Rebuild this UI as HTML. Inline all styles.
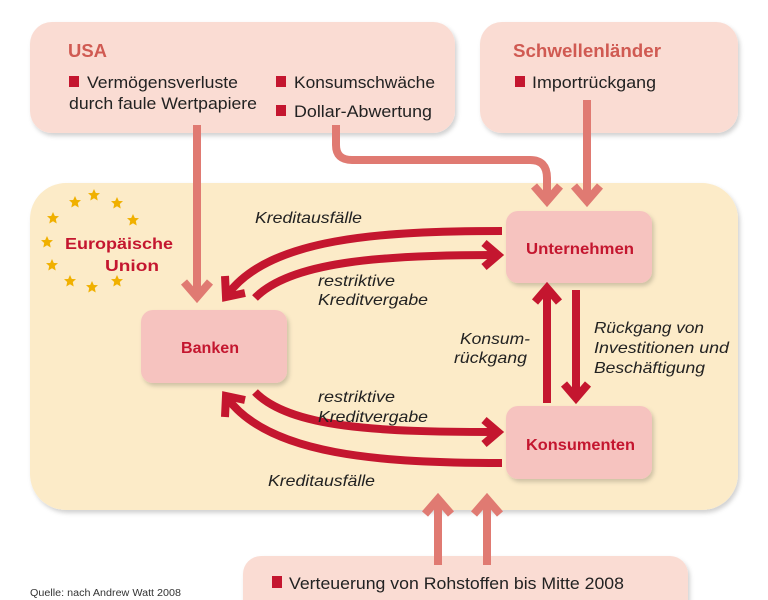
<!DOCTYPE html>
<html><head><meta charset="utf-8"><style>
body{margin:0;background:#fff}
svg{display:block}
text{font-family:"Liberation Sans Narrow","Liberation Sans",sans-serif}
.it{font-style:italic;font-size:16px;fill:#222}
.b{font-size:16.5px;fill:#222}
.t{font-weight:bold;font-size:18px;fill:#d05a52}
.n{font-weight:bold;font-size:16px;fill:#c4162f}
</style></head><body>
<svg width="768" height="600" viewBox="0 0 768 600" xmlns="http://www.w3.org/2000/svg">
<defs>
<filter id="sh" x="-10%" y="-10%" width="130%" height="130%"><feDropShadow dx="2" dy="3" stdDeviation="2" flood-color="#000" flood-opacity="0.18"/></filter>
<g id="st"><polygon points="0,-6 1.8,-2 6,-1.9 2.8,1 3.7,5.5 0,3.2 -3.7,5.5 -2.8,1 -6,-1.9 -1.8,-2" fill="#f0b000"/></g>
</defs>
<rect x="0" y="0" width="768" height="600" fill="#fff"/>
<rect x="30" y="22" width="425" height="111" rx="22" fill="#fadcd3" filter="url(#sh)"/>
<rect x="480" y="22" width="258" height="111" rx="22" fill="#fadcd3" filter="url(#sh)"/>
<rect x="30" y="183" width="708" height="327" rx="36" fill="#fcebc8" filter="url(#sh)"/>
<rect x="243" y="556" width="445" height="70" rx="18" fill="#fadcd3" filter="url(#sh)"/>
<rect x="506" y="211" width="146" height="72" rx="12" fill="#f6c3bf" filter="url(#sh)"/>
<rect x="141" y="310" width="146" height="73" rx="12" fill="#f6c3bf" filter="url(#sh)"/>
<rect x="506" y="406" width="146" height="73" rx="12" fill="#f6c3bf" filter="url(#sh)"/>
<text x="68" y="57" class="t" textLength="39" lengthAdjust="spacingAndGlyphs">USA</text>
<rect x="69" y="76" width="10" height="11" fill="#c4162f"/>
<text x="87" y="88" class="b" textLength="151" lengthAdjust="spacingAndGlyphs">Vermögensverluste</text>
<text x="69" y="109" class="b" textLength="188" lengthAdjust="spacingAndGlyphs">durch faule Wertpapiere</text>
<rect x="276" y="76" width="10" height="11" fill="#c4162f"/>
<text x="294" y="88" class="b" textLength="141" lengthAdjust="spacingAndGlyphs">Konsumschwäche</text>
<rect x="276" y="105" width="10" height="11" fill="#c4162f"/>
<text x="294" y="117" class="b" textLength="138" lengthAdjust="spacingAndGlyphs">Dollar-Abwertung</text>
<text x="513" y="57" class="t" textLength="148" lengthAdjust="spacingAndGlyphs">Schwellenländer</text>
<rect x="515" y="76" width="10" height="11" fill="#c4162f"/>
<text x="532" y="88" class="b" textLength="124" lengthAdjust="spacingAndGlyphs">Importrückgang</text>
<rect x="272" y="576" width="10" height="12" fill="#c4162f"/>
<text x="289" y="589" class="b" font-size="17.5" textLength="335" lengthAdjust="spacingAndGlyphs">Verteuerung von Rohstoffen bis Mitte 2008</text>
<text x="30" y="596" font-size="10" fill="#333" textLength="151" lengthAdjust="spacingAndGlyphs">Quelle: nach Andrew Watt 2008</text>
<g stroke="#e07a72" stroke-width="8" fill="none">
<path d="M197 125 V297"/><polyline points="184,282 197,297 210,282"/>
<path d="M336 125 V145 Q336 160 352 160 H530 Q547 160 547 178 V200"/><polyline points="534,186 547,201 560,186"/>
<path d="M587 100 V200"/><polyline points="574,186 587,201 600,186"/>
<path d="M438 565 V500"/><polyline points="425,514 438,499 451,514"/>
<path d="M487 565 V500"/><polyline points="474,514 487,499 500,514"/>
</g>
<use href="#st" x="75" y="202"/><use href="#st" x="94" y="195"/><use href="#st" x="117" y="203"/><use href="#st" x="133" y="220"/>
<use href="#st" x="53" y="218"/><use href="#st" x="47" y="242"/><use href="#st" x="52" y="265"/>
<use href="#st" x="70" y="281"/><use href="#st" x="92" y="287"/><use href="#st" x="117" y="281"/>
<text x="65" y="249" class="n" font-size="18" textLength="108" lengthAdjust="spacingAndGlyphs">Europäische</text>
<text x="105" y="271" class="n" font-size="18" textLength="54" lengthAdjust="spacingAndGlyphs">Union</text>
<text x="181" y="353" class="n" textLength="58" lengthAdjust="spacingAndGlyphs">Banken</text>
<text x="526" y="254" class="n" textLength="108" lengthAdjust="spacingAndGlyphs">Unternehmen</text>
<text x="526" y="450" class="n" textLength="109" lengthAdjust="spacingAndGlyphs">Konsumenten</text>
<g stroke="#c4162f" stroke-width="8" fill="none">
<path d="M502 231 C380 231 270 238 228 294"/><polyline points="225,276 226,297 245,293"/>
<path d="M255 298 C290 262 380 255 494 255"/><polyline points="484,243 498,255 484,267"/>
<path d="M255 392 C290 428 380 432 494 432"/><polyline points="484,420 498,432 484,444"/>
<path d="M502 463 C380 463 270 455 228 399"/><polyline points="225,417 226,396 245,400"/>
<path d="M547 403 V290"/><polyline points="535,302 547,288 559,302"/>
<path d="M576 290 V396"/><polyline points="564,384 576,398 588,384"/>
</g>
<text x="255" y="223" class="it" textLength="107" lengthAdjust="spacingAndGlyphs">Kreditausfälle</text>
<text x="318" y="286" class="it" textLength="77" lengthAdjust="spacingAndGlyphs">restriktive</text>
<text x="318" y="305" class="it" textLength="110" lengthAdjust="spacingAndGlyphs">Kreditvergabe</text>
<text x="460" y="344" class="it" textLength="70" lengthAdjust="spacingAndGlyphs">Konsum-</text>
<text x="454" y="363" class="it" textLength="73" lengthAdjust="spacingAndGlyphs">rückgang</text>
<text x="594" y="333" class="it" textLength="110" lengthAdjust="spacingAndGlyphs">Rückgang von</text>
<text x="594" y="353" class="it" textLength="135" lengthAdjust="spacingAndGlyphs">Investitionen und</text>
<text x="594" y="373" class="it" textLength="111" lengthAdjust="spacingAndGlyphs">Beschäftigung</text>
<text x="318" y="402" class="it" textLength="77" lengthAdjust="spacingAndGlyphs">restriktive</text>
<text x="318" y="422" class="it" textLength="110" lengthAdjust="spacingAndGlyphs">Kreditvergabe</text>
<text x="268" y="486" class="it" textLength="107" lengthAdjust="spacingAndGlyphs">Kreditausfälle</text>
</svg>
</body></html>
